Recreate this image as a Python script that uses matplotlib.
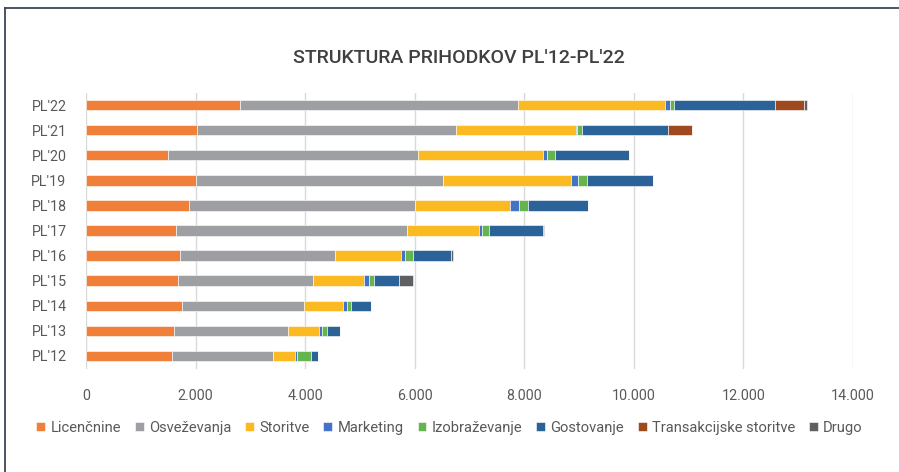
import matplotlib.pyplot as plt
from matplotlib.lines import Line2D
from matplotlib.ticker import FuncFormatter

plt.rcParams['font.family'] = ['Roboto', 'DejaVu Sans']

years = ["PL'12", "PL'13", "PL'14", "PL'15", "PL'16", "PL'17",
         "PL'18", "PL'19", "PL'20", "PL'21", "PL'22"]

licencnine = [1564, 1612, 1758, 1685, 1716, 1643, 1886, 2001, 1491, 2032, 2811]
osvezevanja = [1849, 2080, 2227, 2464, 2835, 4208, 4119, 4521, 4574, 4721, 5079]
storitve = [396, 555, 698, 924, 1190, 1328, 1734, 2330, 2282, 2184, 2678]
marketing = [42, 60, 73, 86, 87, 43, 170, 122, 61, 30, 91]
izobrazevanje = [250, 91, 81, 97, 140, 134, 152, 176, 146, 79, 79]
gostovanje = [139, 232, 359, 449, 688, 991, 1107, 1192, 1363, 1582, 1837]
transakcijske = [0, 0, 0, 0, 0, 0, 0, 0, 0, 426, 535]
drugo = [0, 0, 0, 255, 48, 18, 0, 0, 0, 0, 50]

series = [
    ("Licenčnine", licencnine, "#F07F3A"),
    ("Osveževanja", osvezevanja, "#9D9FA2"),
    ("Storitve", storitve, "#FBBA22"),
    ("Marketing", marketing, "#4472C4"),
    ("Izobraževanje", izobrazevanje, "#66B44E"),
    ("Gostovanje", gostovanje, "#2B6399"),
    ("Transakcijske storitve", transakcijske, "#9E4A1E"),
    ("Drugo", drugo, "#5F6062"),
]

fig = plt.figure(figsize=(8.99, 4.72), dpi=100)
ax = fig.add_axes([86 / 899, 1 - 368.5 / 472, (853 - 86) / 899, 276 / 472])

y = list(range(len(years)))
left = [0] * len(years)
for name, vals, col in series:
    ax.barh(y, vals, left=left, height=0.42, color=col, label=name,
            edgecolor='white', linewidth=0.4, zorder=3)
    left = [a + b for a, b in zip(left, vals)]

ax.set_xlim(0, 14000)
ax.set_ylim(-0.5, len(years) - 0.5)
ax.set_xticks(range(0, 14001, 2000))
ax.xaxis.set_major_formatter(FuncFormatter(lambda v, p: f"{int(v):,}".replace(",", ".")))
ax.set_yticks(y)
ax.set_yticklabels(years)
ax.grid(axis='x', color='#D9D9D9', linewidth=1, zorder=0)
for s in ax.spines.values():
    s.set_visible(False)
ax.tick_params(axis='both', length=0, labelsize=10.3, colors='#595959')
ax.tick_params(axis='x', pad=15)
ax.tick_params(axis='y', pad=14)

fig.text(0.51, 1 - 58 / 472, "STRUKTURA PRIHODKOV PL'12-PL'22", ha='center', va='center',
         fontsize=14, fontweight='medium', color='#404040')

handles, labels = ax.get_legend_handles_labels()
fig.legend(handles, labels, loc='center', bbox_to_anchor=(0.5, 1 - 428 / 472), ncol=8,
           frameon=False, fontsize=10.6, handlelength=0.6, handleheight=0.6,
           handletextpad=0.35, columnspacing=0.95, labelcolor='#595959')

# outer frame
fig.add_artist(Line2D([5 / 899, 5 / 899], [0, 1 - 8 / 472], color='#3B4754', linewidth=1.3))
fig.add_artist(Line2D([5 / 899, 1], [1 - 8 / 472, 1 - 8 / 472], color='#3B4754', linewidth=1.3))

fig.savefig("out.png", dpi=100)
